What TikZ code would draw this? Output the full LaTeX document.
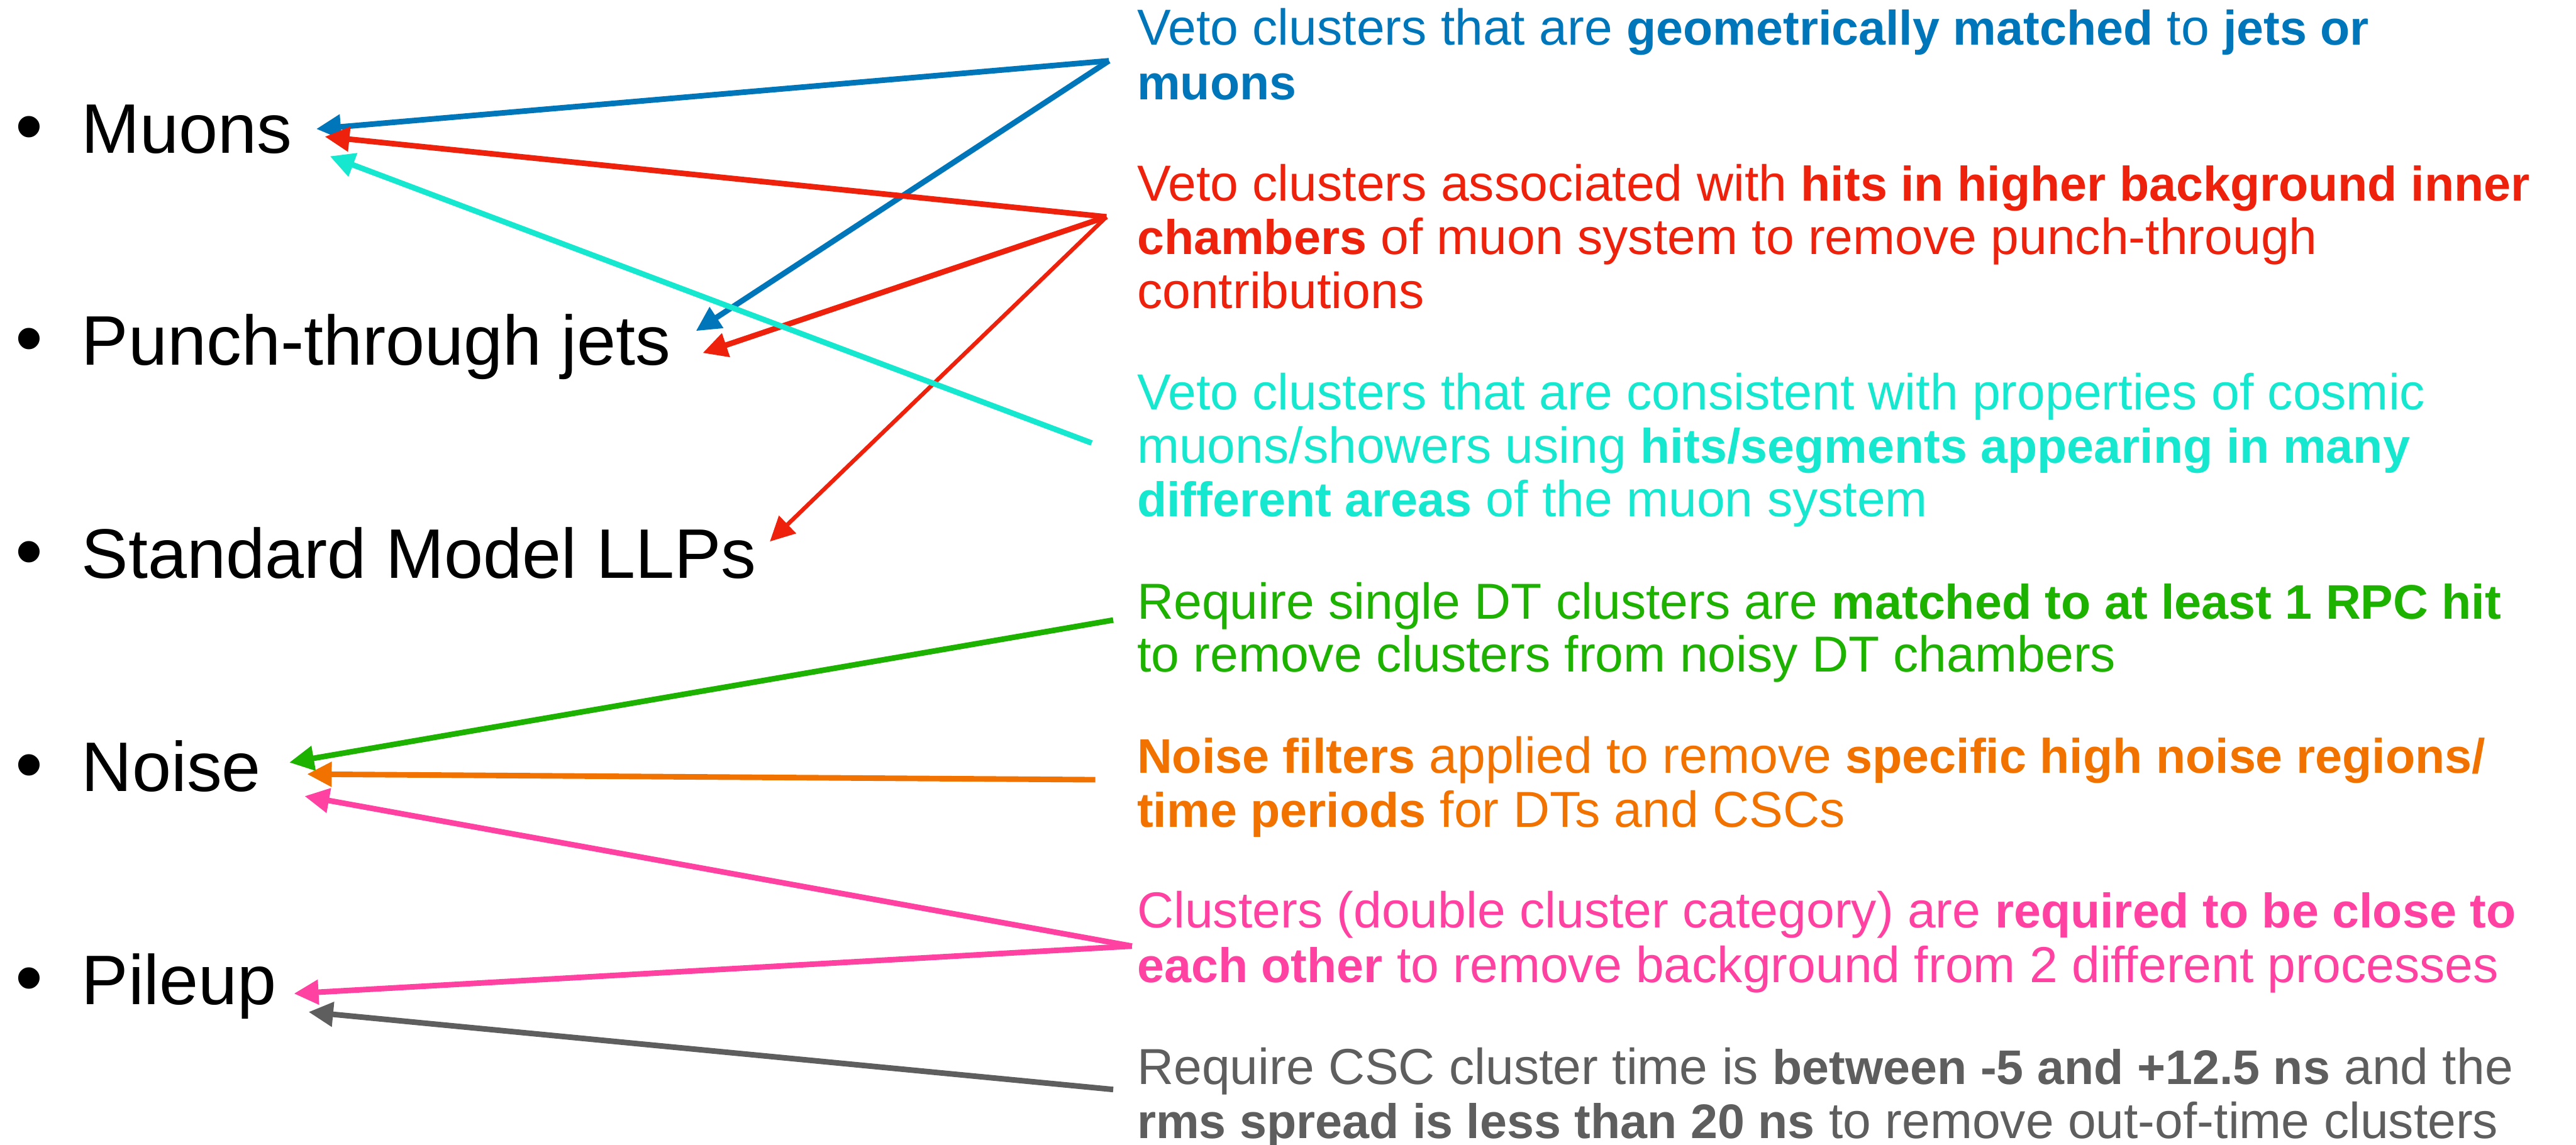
\documentclass[tikz,border=0pt]{standalone}
\usepackage{fontspec}
\setmainfont{Liberation Sans}
\newfontfamily\boldf[Scale=0.96]{Liberation Sans Bold}
\newcommand\hb[1]{{\boldf #1}}
\usetikzlibrary{arrows.meta}
\definecolor{cblue}{HTML}{0076BA}
\definecolor{cred}{HTML}{EE220C}
\definecolor{ccyan}{HTML}{16E7CF}
\definecolor{cgreen}{HTML}{1DB100}
\definecolor{corange}{HTML}{F27200}
\definecolor{cpink}{HTML}{FF42A1}
\definecolor{cgray}{HTML}{5E5E5E}
\tikzset{
  arr/.style={line width=3.4pt, -{Triangle[length=15pt,width=14.5pt]}},
  thinarr/.style={line width=2.5pt, -{Triangle[length=15pt,width=14.5pt]}},
  lab/.style={anchor=base west, inner sep=0pt, font=\fontsize{42.7}{50}\selectfont},
  bul/.style={anchor=base, inner sep=0pt, font=\fontsize{48}{50}\selectfont},
  desc/.style={anchor=base west, inner sep=0pt, font=\fontsize{30.8}{33}\selectfont},
}
\begin{document}
\begin{tikzpicture}[x=1pt,y=-1pt]
\useasboundingbox (0,0) rectangle (1568,697);
% left labels
\node[bul] (m0) at (17.6,93.4) {•};
\node[lab] (muons) at (49.5,93.4) {Muons};
\node[bul] (p0) at (17.6,222.4) {•};
\node[lab] (punch) at (49.5,222.4) {Punch-through jets};
\node[bul] (s0) at (17.6,352) {•};
\node[lab] (sm) at (49.5,352) {Standard Model LLPs};
\node[bul] (n0) at (17.6,481.9) {•};
\node[lab] (noise) at (49.5,481.9) {Noise};
\node[bul] (u0) at (17.6,611.6) {•};
\node[lab] (pileup) at (49.5,611.6) {Pileup};
% right descriptions
\node[desc,text=cblue] (b1) at (692,27.2) {Veto clusters that are \hb{geometrically matched} to \hb{jets or}};
\node[desc,text=cblue] (b2) at (692,60.8) {\hb{muons}};
\node[desc,text=cred] (r1) at (692,122.2) {Veto clusters associated with \hb{hits in higher background inner}};
\node[desc,text=cred] (r2) at (692,155) {\hb{chambers} of muon system to remove punch-through};
\node[desc,text=cred] (r3) at (692,187.6) {contributions};
\node[desc,text=ccyan] (c1) at (692,249.4) {Veto clusters that are consistent with properties of cosmic};
\node[desc,text=ccyan] (c2) at (692,281.9) {muons/showers using \hb{hits/segments appearing in many}};
\node[desc,text=ccyan] (c3) at (692,314.3) {\hb{different areas} of the muon system};
\node[desc,text=cgreen] (g1) at (692,376.7) {Require single DT clusters are \hb{matched to at least 1 RPC hit}};
\node[desc,text=cgreen] (g2) at (692,409) {to remove clusters from noisy DT chambers};
\node[desc,text=corange] (o1) at (692,470.7) {\hb{Noise filters} applied to remove \hb{specific high noise regions/}};
\node[desc,text=corange] (o2) at (692,503.6) {\hb{time periods} for DTs and CSCs};
\node[desc,text=cpink] (k1) at (692,564.7) {Clusters (double cluster category) are \hb{required to be close to}};
\node[desc,text=cpink] (k2) at (692,598.2) {\hb{each other} to remove background from 2 different processes};
\node[desc,text=cgray] (y1) at (692,660.2) {Require CSC cluster time is \hb{between -5 and +12.5 ns} and the};
\node[desc,text=cgray] (y2) at (692,693.2) {\hb{rms spread is less than 20 ns} to remove out-of-time clusters};
% arrow endpoints
\coordinate (bS) at (675,37);
\coordinate (bM) at (192.5,78.5);
\coordinate (bP) at (423.6,201.5);
\coordinate (rS) at (673.5,132);
\coordinate (rM) at (197.7,83.2);
\coordinate (rP) at (427.7,214.9);
\coordinate (rL) at (468.6,329.7);
\coordinate (cS) at (664.5,269.7);
\coordinate (cM) at (200.8,95.1);
\coordinate (gS) at (677.6,377.5);
\coordinate (gN) at (176.1,464.2);
\coordinate (oS) at (666.7,474.7);
\coordinate (oN) at (186.9,471.3);
\coordinate (pS) at (689,576);
\coordinate (pN) at (185.4,484.7);
\coordinate (pP) at (178.9,604.9);
\coordinate (kS) at (677.6,663.3);
\coordinate (kP) at (187.8,616.1);
% arrows
\draw[arr,cblue] (bS) -- (bM);
\draw[arr,cblue] (bS) -- (bP);
\draw[arr,cred] (rS) -- (rM);
\draw[arr,cred] (rS) -- (rP);
\draw[thinarr,cred] (rS) -- (rL);
\draw[arr,ccyan] (cS) -- (cM);
\draw[arr,cgreen] (gS) -- (gN);
\draw[arr,corange] (oS) -- (oN);
\draw[arr,cpink] (pS) -- (pN);
\draw[arr,cpink] (pS) -- (pP);
\draw[arr,cgray] (kS) -- (kP);
\end{tikzpicture}
\end{document}
